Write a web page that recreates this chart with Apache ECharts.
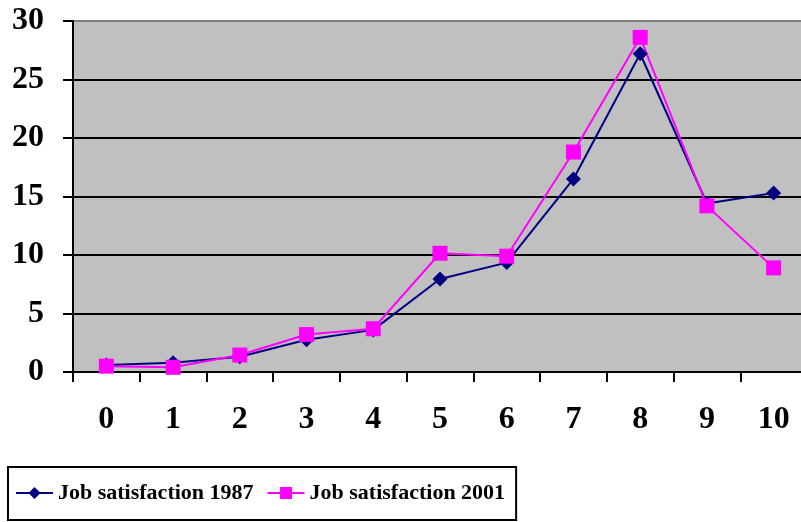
<!DOCTYPE html>
<html>
<head>
<meta charset="utf-8">
<title>Job satisfaction</title>
<style>
  html, body { margin: 0; padding: 0; background: #fff; }
  #main { width: 801px; height: 522px; }
</style>
</head>
<body>
<div id="main"></div>
<script src="https://cdn.jsdelivr.net/npm/echarts@6/dist/echarts.min.js"></script>
<script>
var categories = ['0', '1', '2', '3', '4', '5', '6', '7', '8', '9', '10'];
var sat1987 = [0.6, 0.8, 1.3, 2.75, 3.6, 7.95, 9.35, 16.5, 27.2, 14.4, 15.3];
var sat2001 = [0.5, 0.4, 1.45, 3.2, 3.7, 10.15, 9.9, 18.8, 28.6, 14.2, 8.9];

var serif = '"Liberation Serif", "Times New Roman", serif';
var chart = echarts.init(document.getElementById('main'));

chart.setOption({
  animation: false,
  grid: {
    left: 73, top: 21, width: 734, height: 351,
    outerBoundsMode: 'none',
    containLabel: false,
    show: true, backgroundColor: '#c0c0c0', borderWidth: 0
  },
  legend: {
    left: 8, bottom: 2,
    padding: [15, 11, 16, 7],
    itemGap: 13,
    itemWidth: 37, itemHeight: 15,
    borderColor: '#000', borderWidth: 2, borderRadius: 0,
    textStyle: { fontFamily: serif, fontWeight: 'bold', fontSize: 22, color: '#000' },
    data: ['Job satisfaction 1987', 'Job satisfaction 2001']
  },
  xAxis: {
    type: 'category',
    data: categories,
    boundaryGap: true,
    axisLine: { lineStyle: { color: '#000', width: 2 } },
    axisTick: { show: true, length: 10, lineStyle: { color: '#000', width: 2 } },
    axisLabel: { margin: 32, fontFamily: serif, fontWeight: 'bold', fontSize: 32, color: '#000' }
  },
  yAxis: {
    type: 'value',
    min: 0, max: 30, interval: 5,
    axisLine: { show: true, lineStyle: { color: '#000', width: 2 } },
    axisTick: { show: true, length: 10, lineStyle: { color: '#000', width: 2 } },
    axisLabel: { margin: 29, fontFamily: serif, fontWeight: 'bold', fontSize: 32, color: '#000' },
    splitLine: {
      show: true,
      lineStyle: { color: ['#000', '#000', '#000', '#000', '#000', '#000', '#808080'], width: 2 }
    }
  },
  series: [
    {
      name: 'Job satisfaction 1987',
      type: 'line',
      data: sat1987,
      symbol: 'diamond',
      symbolSize: 15,
      itemStyle: { color: '#000080' },
      lineStyle: { color: '#000080', width: 2 }
    },
    {
      name: 'Job satisfaction 2001',
      type: 'line',
      data: sat2001,
      symbol: 'rect',
      symbolSize: 15,
      itemStyle: { color: '#ff00ff' },
      lineStyle: { color: '#ff00ff', width: 2 }
    }
  ]
});
</script>
</body>
</html>
